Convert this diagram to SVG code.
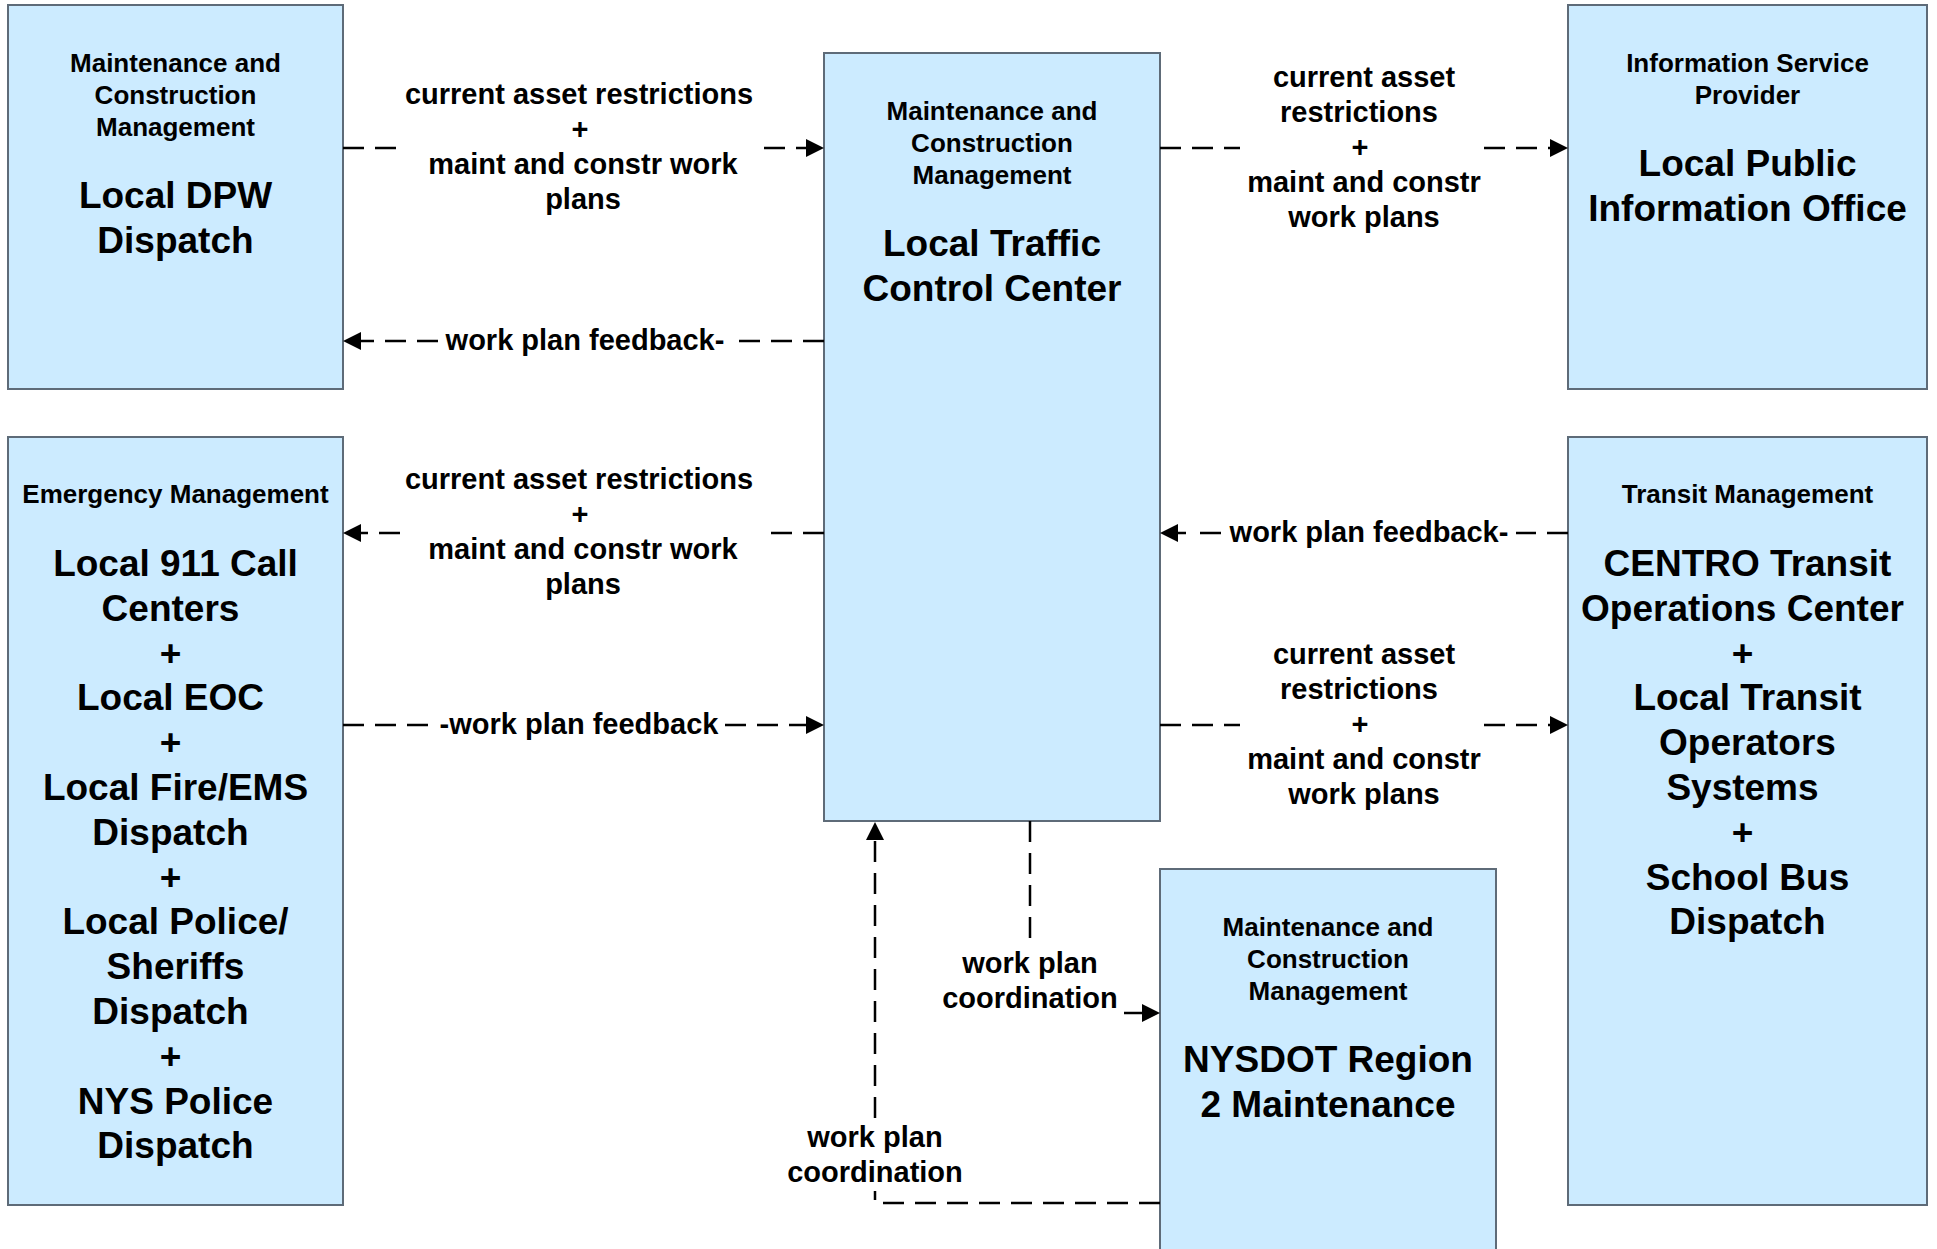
<svg xmlns="http://www.w3.org/2000/svg" width="1937" height="1249" viewBox="0 0 1937 1249">
<style>
  .box { fill: #CCEBFF; stroke: #5E6B78; stroke-width: 2; }
  text { font-family: "Liberation Sans", Arial, sans-serif; font-weight: bold; fill: #000; text-anchor: middle; }
  .hd { font-size: 26px; }
  .big { font-size: 37px; }
  .lbl { font-size: 29px; }
  .con { fill: none; stroke: #000; stroke-width: 2.5; stroke-dasharray: 21 11; }
</style>
<defs>
  <marker id="arr" viewBox="0 0 18 18" markerWidth="18" markerHeight="18" refX="0" refY="9" markerUnits="userSpaceOnUse" orient="auto">
    <path d="M0,0 L18,9 L0,18 Z" fill="#000"/>
  </marker>
</defs>
<rect width="1937" height="1249" fill="#fff"/>

<g id="node-dpw">
  <rect class="box" x="8" y="5" width="335" height="384"/>
  <text class="hd" x="175.5" y="72">Maintenance and</text>
  <text class="hd" x="175.5" y="104">Construction</text>
  <text class="hd" x="175.5" y="136">Management</text>
  <text class="big" x="175.5" y="208">Local DPW</text>
  <text class="big" x="175.5" y="252.8">Dispatch</text>
</g>

<g id="node-ltcc">
  <rect class="box" x="824" y="53" width="336" height="768"/>
  <text class="hd" x="992" y="120">Maintenance and</text>
  <text class="hd" x="992" y="152">Construction</text>
  <text class="hd" x="992" y="184">Management</text>
  <text class="big" x="992" y="256">Local Traffic</text>
  <text class="big" x="992" y="300.8">Control Center</text>
</g>

<g id="node-pio">
  <rect class="box" x="1568" y="5" width="359" height="384"/>
  <text class="hd" x="1747.5" y="72">Information Service</text>
  <text class="hd" x="1747.5" y="104">Provider</text>
  <text class="big" x="1747.5" y="176">Local Public</text>
  <text class="big" x="1747.5" y="220.8">Information Office</text>
</g>

<g id="node-emergency">
  <rect class="box" x="8" y="437" width="335" height="768"/>
  <text class="hd" x="175.5" y="503">Emergency Management</text>
  <text class="big" x="175.5" y="576">Local 911 Call</text>
  <text class="big" x="170.5" y="620.8">Centers</text>
  <text class="big" x="170.5" y="665.6">+</text>
  <text class="big" x="170.5" y="710.4">Local EOC</text>
  <text class="big" x="170.5" y="755.2">+</text>
  <text class="big" x="175.5" y="800">Local Fire/EMS</text>
  <text class="big" x="170.5" y="844.8">Dispatch</text>
  <text class="big" x="170.5" y="889.6">+</text>
  <text class="big" x="175.5" y="934.4">Local Police/</text>
  <text class="big" x="175.5" y="979.2">Sheriffs</text>
  <text class="big" x="170.5" y="1024">Dispatch</text>
  <text class="big" x="170.5" y="1068.8">+</text>
  <text class="big" x="175.5" y="1113.6">NYS Police</text>
  <text class="big" x="175.5" y="1158.4">Dispatch</text>
</g>

<g id="node-transit">
  <rect class="box" x="1568" y="437" width="359" height="768"/>
  <text class="hd" x="1747.5" y="503">Transit Management</text>
  <text class="big" x="1747.5" y="576">CENTRO Transit</text>
  <text class="big" x="1742.5" y="620.8">Operations Center</text>
  <text class="big" x="1742.5" y="665.6">+</text>
  <text class="big" x="1747.5" y="710.4">Local Transit</text>
  <text class="big" x="1747.5" y="755.2">Operators</text>
  <text class="big" x="1742.5" y="800">Systems</text>
  <text class="big" x="1742.5" y="844.8">+</text>
  <text class="big" x="1747.5" y="889.6">School Bus</text>
  <text class="big" x="1747.5" y="934.4">Dispatch</text>
</g>

<g id="node-nysdot">
  <rect class="box" x="1160" y="869" width="336" height="400"/>
  <text class="hd" x="1328" y="936">Maintenance and</text>
  <text class="hd" x="1328" y="968">Construction</text>
  <text class="hd" x="1328" y="1000">Management</text>
  <text class="big" x="1328" y="1072">NYSDOT Region</text>
  <text class="big" x="1328" y="1116.8">2 Maintenance</text>
</g>

<g id="connectors">
  <!-- DPW -> LTCC -->
  <path class="con" d="M343,148 H398"/>
  <path class="con" d="M764,148 H806" marker-end="url(#arr)"/>
  <text class="lbl" x="579" y="104">current asset restrictions</text>
  <text class="lbl" x="580" y="139">+</text>
  <text class="lbl" x="583" y="174">maint and constr work</text>
  <text class="lbl" x="583" y="209">plans</text>

  <!-- LTCC -> DPW -->
  <path class="con" d="M824,341 H732"/>
  <path class="con" d="M438,341 H361" marker-end="url(#arr)"/>
  <text class="lbl" x="585" y="349.5">work plan feedback-</text>

  <!-- LTCC -> PIO -->
  <path class="con" d="M1160,148 H1240"/>
  <path class="con" d="M1484,148 H1550" marker-end="url(#arr)"/>
  <text class="lbl" x="1364" y="86.5">current asset</text>
  <text class="lbl" x="1359" y="121.5">restrictions</text>
  <text class="lbl" x="1360" y="156.5">+</text>
  <text class="lbl" x="1364" y="191.5">maint and constr</text>
  <text class="lbl" x="1364" y="226.5">work plans</text>

  <!-- LTCC -> Emergency -->
  <path class="con" d="M824,533 H768"/>
  <path class="con" d="M400,533 H361" marker-end="url(#arr)"/>
  <text class="lbl" x="579" y="489">current asset restrictions</text>
  <text class="lbl" x="580" y="524">+</text>
  <text class="lbl" x="583" y="559">maint and constr work</text>
  <text class="lbl" x="583" y="594">plans</text>

  <!-- Emergency -> LTCC -->
  <path class="con" d="M343,725 H434"/>
  <path class="con" d="M725,725 H806" marker-end="url(#arr)"/>
  <text class="lbl" x="579" y="733.5">-work plan feedback</text>

  <!-- Transit -> LTCC -->
  <path class="con" d="M1568,533 H1516"/>
  <path class="con" d="M1221,533 H1178" style="stroke-dasharray: 21 14 8 20" marker-end="url(#arr)"/>
  <text class="lbl" x="1369" y="541.5">work plan feedback-</text>

  <!-- LTCC -> Transit -->
  <path class="con" d="M1160,725 H1240"/>
  <path class="con" d="M1484,725 H1550" marker-end="url(#arr)"/>
  <text class="lbl" x="1364" y="663.5">current asset</text>
  <text class="lbl" x="1359" y="698.5">restrictions</text>
  <text class="lbl" x="1360" y="733.5">+</text>
  <text class="lbl" x="1364" y="768.5">maint and constr</text>
  <text class="lbl" x="1364" y="803.5">work plans</text>

  <!-- LTCC -> NYSDOT -->
  <path class="con" d="M1030,821 V938"/>
  <path class="con" d="M1124,1013 H1142" marker-end="url(#arr)"/>
  <text class="lbl" x="1030" y="973">work plan</text>
  <text class="lbl" x="1030" y="1008">coordination</text>

  <!-- NYSDOT -> LTCC -->
  <path class="con" d="M1160,1203 H875 V1191"/>
  <path class="con" d="M875,1118 V840" marker-end="url(#arr)"/>
  <text class="lbl" x="875" y="1146.5">work plan</text>
  <text class="lbl" x="875" y="1181.5">coordination</text>
</g>
</svg>
